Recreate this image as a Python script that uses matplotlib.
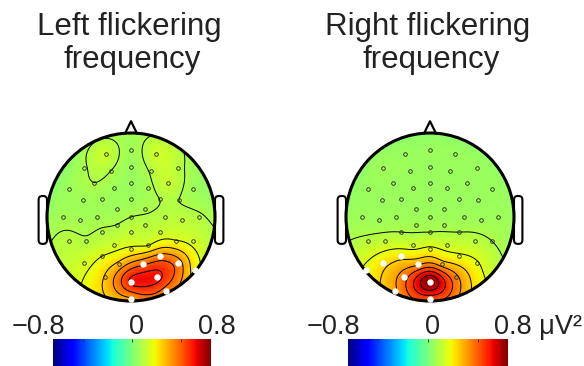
import numpy as np
import matplotlib
matplotlib.use("Agg")
import matplotlib.pyplot as plt
from matplotlib.patches import Circle, FancyBboxPatch

plt.rcParams['font.family'] = ['Liberation Sans', 'DejaVu Sans']

# electrode positions on the head (unit = head radius, y up = nose)
elec_x = [-0.30, 0.00, 0.30,
          -0.56, -0.24, 0.00, 0.24, 0.56,
          -0.44, -0.20, 0.00, 0.20, 0.44,
          -0.74, 0.74,
          -0.57, -0.34, 0.00, 0.34, 0.57,
          -0.17, 0.17,
          -0.81, -0.61, -0.40, 0.00, 0.40, 0.61, 0.81,
          -0.17, 0.17,
          -0.34, 0.00, 0.34,
          -0.74, -0.53, -0.20, 0.20, 0.53, 0.74,
          -0.35, 0.00, 0.35,
          -0.56, -0.14, 0.14, 0.56,
          -0.31, 0.00, 0.31,
          -0.76, -0.42, 0.00, 0.42, 0.76]
elec_y = [0.75, 0.80, 0.75,
          0.58, 0.55, 0.60, 0.55, 0.58,
          0.41, 0.35, 0.41, 0.35, 0.41,
          0.33, 0.33,
          0.20, 0.21, 0.21, 0.21, 0.20,
          0.10, 0.10,
          0.00, -0.04, 0.00, 0.00, 0.00, -0.04, 0.00,
          -0.09, -0.09,
          -0.18, -0.18, -0.18,
          -0.29, -0.29, -0.33, -0.33, -0.29, -0.29,
          -0.47, -0.38, -0.47,
          -0.55, -0.56, -0.56, -0.55,
          -0.72, -0.77, -0.72,
          -0.63, -0.88, -0.98, -0.88, -0.63]

# power difference (uV^2) at each electrode
left_vals = [0.15, 0.07, 0.16,
             0.09, 0.10, 0.06, 0.11, 0.12,
             0.10, 0.07, 0.06, 0.08, 0.15,
             0.07, 0.07,
             0.07, 0.07, 0.07, 0.10, 0.10,
             0.07, 0.09,
             0.08, 0.08, 0.08, 0.10, 0.12, 0.13, 0.11,
             0.10, 0.12,
             0.11, 0.14, 0.15,
             0.12, 0.11, 0.16, 0.19, 0.21, 0.17,
             0.20, 0.22, 0.44,
             0.17, 0.33, 0.48, 0.45,
             0.31, 0.62, 0.63,
             0.15, 0.26, 0.38, 0.45, 0.25]
right_vals = [0.06, 0.06, 0.06,
              0.07, 0.06, 0.06, 0.06, 0.06,
              0.06, 0.06, 0.06, 0.06, 0.06,
              0.06, 0.06,
              0.06, 0.06, 0.06, 0.06, 0.06,
              0.06, 0.06,
              0.07, 0.07, 0.07, 0.07, 0.07, 0.07, 0.07,
              0.08, 0.08,
              0.10, 0.10, 0.10,
              0.12, 0.14, 0.16, 0.16, 0.13, 0.10,
              0.27, 0.22, 0.22,
              0.27, 0.38, 0.35, 0.21,
              0.46, 0.80, 0.43,
              0.22, 0.38, 0.52, 0.35, 0.14]

# significant electrodes (white dots)
left_sig = [42, 45, 46, 48, 49, 52, 53, 54]
right_sig = [40, 43, 44, 47, 48, 50, 51, 52]

titles = ["Left flickering", "Right flickering"]
vmin, vmax = -0.8, 0.8
left_levels = [0.1, 0.2, 0.3, 0.4, 0.5, 0.6]
right_levels = [0.1, 0.2, 0.3, 0.4, 0.5, 0.6, 0.7]

W, H = 584, 366
fig = plt.figure(figsize=(W / 100, H / 100), dpi=100)


def spline_map(x, y, v, n=301):
    # biharmonic spline, like griddata 'v4' in topoplot
    x = np.asarray(x); y = np.asarray(y); v = np.asarray(v)
    def green(r):
        out = np.zeros_like(r)
        m = r > 0
        out[m] = r[m] ** 2 * (np.log(r[m]) - 1)
        return out
    d = np.hypot(x[:, None] - x[None, :], y[:, None] - y[None, :])
    w = np.linalg.solve(green(d), v)
    g = np.linspace(-1, 1, n)
    gx, gy = np.meshgrid(g, g)
    dg = np.hypot(gx[..., None] - x, gy[..., None] - y)
    z = green(dg) @ w
    return gx, gy, z


def head(ax, vals, sig, levels):
    gx, gy, z = spline_map(elec_x, elec_y, vals)
    clip = Circle((0, 0), 1.0, transform=ax.transData)
    im = ax.imshow(z, extent=(-1, 1, -1, 1), origin='lower', cmap='jet',
                   vmin=vmin, vmax=vmax, interpolation='bilinear')
    im.set_clip_path(clip)
    cs = ax.contour(gx, gy, z, levels=levels, colors='k', linewidths=0.7)
    cs.set_clip_path(clip)

    ax.add_patch(Circle((0, 0), 1.0, fill=False, lw=2.2, ec='k', zorder=5))
    ax.plot([-0.07, 0.0, 0.07], [0.997, 1.14, 0.997], color='k', lw=1.6, zorder=5)
    for s in [-1, 1]:
        ear = FancyBboxPatch((s * 1.05 - 0.03, -0.30), 0.06, 0.53,
                             boxstyle="round,pad=0.02,rounding_size=0.045",
                             fill=False, ec='k', lw=1.5, zorder=5)
        ax.add_patch(ear)

    ex = np.array(elec_x); ey = np.array(elec_y)
    inside = np.hypot(ex, ey) < 0.95
    plain = inside.copy()
    plain[sig] = False
    ax.plot(ex[plain], ey[plain], 'o', ms=2.6, mfc='none', mec='#222222',
            mew=0.6, zorder=6)
    ax.plot(ex[sig], ey[sig], 'o', ms=4.6, mfc='white', mec='white',
            mew=0, zorder=7)

    ax.set_xlim(-1.2, 1.2)
    ax.set_ylim(-1.2, 1.2)
    ax.set_aspect('equal')
    ax.axis('off')


centers = [131, 430]
r_px = 84
cy = 217
bars = [(53, 211), (348, 508)]
bar_top = 339

for i in range(2):
    cx = centers[i]
    half = 1.2 * r_px
    ax = fig.add_axes([(cx - half) / W, (H - cy - half) / H, 2 * half / W, 2 * half / H])
    head(ax, [left_vals, right_vals][i], [left_sig, right_sig][i],
         [left_levels, right_levels][i])

    tx = cx - 2
    fig.text(tx / W, 1 - 35 / H, titles[i], ha='center', va='baseline',
             fontsize=22.5, color='#222222')
    fig.text((cx + 1) / W, 1 - 68 / H, "frequency", ha='center', va='baseline',
             fontsize=22.5, color='#222222')

    # colorbar
    x0, x1 = bars[i]
    cax = fig.add_axes([x0 / W, -0.05, (x1 - x0) / W, (H - bar_top) / H + 0.05])
    grad = np.linspace(vmin, vmax, 256)[None, :]
    cax.imshow(grad, aspect='auto', cmap='jet', vmin=vmin, vmax=vmax,
               extent=(vmin, vmax, 0, 1))
    cax.set_xticks([-0.5, 0, 0.5])
    cax.set_yticks([])
    cax.tick_params(axis='x', direction='in', length=2.5, width=0.7,
                    top=True, bottom=False, labelbottom=False, colors='#333333')
    for sp in cax.spines.values():
        sp.set_visible(False)

    base = 1 - 334 / H
    fig.text((x0 - 15) / W, base, "\u22120.8", ha='center', va='baseline',
             fontsize=19.5, color='#222222')
    fig.text(((x0 + x1) / 2 + 4) / W, base, "0", ha='center', va='baseline',
             fontsize=19.5, color='#222222')
    if i == 0:
        fig.text((x1 + 6) / W, base, "0.8", ha='center', va='baseline',
                 fontsize=19.5, color='#222222')
    else:
        fig.text((x1 - 14) / W, base, "0.8 \u03bcV\u00b2", ha='left', va='baseline',
                 fontsize=19.5, color='#222222')

fig.savefig("out.png", dpi=100)
